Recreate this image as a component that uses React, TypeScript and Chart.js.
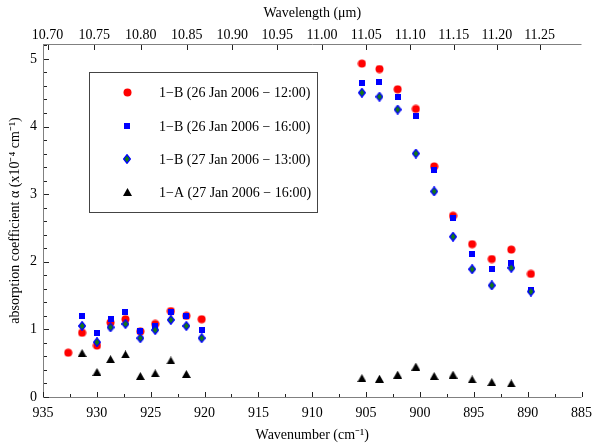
import React, { useEffect, useRef } from 'react';
import { Chart, registerables } from 'chart.js';
Chart.register(...registerables);

// Wavenumbers (cm^-1) of the two measured groups
const wnLeft = [932.66, 931.37, 929.99, 928.73, 927.34, 925.96, 924.58, 923.13, 921.69, 920.27];
const wnRight = [905.39, 903.76, 902.07, 900.38, 898.68, 896.93, 895.15, 893.33, 891.52, 889.7];

// absorption coefficient (x10^-4 cm^-1)
const b26Jan1200Left = [0.655, 0.95, 0.76, 1.1, 1.15, 0.97, 1.08, 1.27, 1.2, 1.15];
const b26Jan1200Right = [4.93, 4.85, 4.55, 4.26, 3.41, 2.68, 2.26, 2.04, 2.18, 1.82];
const b26Jan1600Left = [null, 1.2, 0.94, 1.16, 1.25, 0.97, 1.05, 1.26, 1.2, 0.99];
const b26Jan1600Right = [4.64, 4.66, 4.44, 4.16, 3.36, 2.65, 2.11, 1.9, 1.98, 1.58];
const b27Jan1300Left = [null, 1.05, 0.81, 1.03, 1.08, 0.87, 0.99, 1.14, 1.05, 0.87];
const b27Jan1300Right = [4.5, 4.44, 4.25, 3.6, 3.04, 2.37, 1.89, 1.65, 1.91, 1.56];
const a27Jan1600Left = [null, 0.65, 0.37, 0.56, 0.63, 0.31, 0.35, 0.54, 0.34, null];
const a27Jan1600Right = [0.28, 0.27, 0.33, 0.45, 0.31, 0.33, 0.26, 0.22, 0.2, null];

const seriesLabels = [
  '1\u2212B (26 Jan 2006 \u2212 12:00)',
  '1\u2212B (26 Jan 2006 \u2212 16:00)',
  '1\u2212B (27 Jan 2006 \u2212 13:00)',
  '1\u2212A (27 Jan 2006 \u2212 16:00)',
];

const wavelengthTicks = [10.7, 10.75, 10.8, 10.85, 10.9, 10.95, 11.0, 11.05, 11.1, 11.15, 11.2, 11.25];

const FONT = '"Liberation Serif", "Times New Roman", serif';

function zip(xs: number[], ys: (number | null)[]) {
  const out: { x: number; y: number }[] = [];
  xs.forEach((x, i) => {
    const y = ys[i];
    if (y !== null && y !== undefined) out.push({ x, y });
  });
  return out;
}

function makeMarker(kind: string): HTMLCanvasElement {
  const c = document.createElement('canvas');
  const ctx = c.getContext('2d')!;
  if (kind === 'circle') {
    c.width = 9; c.height = 9;
    ctx.fillStyle = '#ff0000';
    ctx.beginPath(); ctx.arc(4.5, 4.5, 4, 0, Math.PI * 2); ctx.fill();
  } else if (kind === 'square') {
    c.width = 6; c.height = 6;
    ctx.fillStyle = '#0000ff';
    ctx.fillRect(0, 0, 6, 6);
  } else if (kind === 'diamond') {
    c.width = 8; c.height = 10;
    ctx.fillStyle = '#137a13';
    ctx.strokeStyle = '#0000ff';
    ctx.lineWidth = 1.3;
    ctx.beginPath();
    ctx.moveTo(4, 0.7); ctx.lineTo(7.3, 5); ctx.lineTo(4, 9.3); ctx.lineTo(0.7, 5); ctx.closePath();
    ctx.fill(); ctx.stroke();
  } else {
    c.width = 9; c.height = 8;
    ctx.fillStyle = '#000000';
    ctx.beginPath(); ctx.moveTo(4.5, 0); ctx.lineTo(9, 8); ctx.lineTo(0, 8); ctx.closePath(); ctx.fill();
  }
  return c;
}

const isMult = (v: number, s: number) => Math.abs(v / s - Math.round(v / s)) < 1e-6;

export default function App() {
  const ref = useRef<HTMLCanvasElement>(null);
  useEffect(() => {
    const markers = ['circle', 'square', 'diamond', 'triangle'].map(makeMarker);

    const axesPlugin = {
      id: 'axesPlugin',
      afterDraw(chart: any) {
        const ctx = chart.ctx;
        const { left, right, top, bottom } = chart.chartArea;
        ctx.save();
        ctx.lineWidth = 1;
        ctx.strokeStyle = '#808080';
        ctx.beginPath();
        ctx.moveTo(left + 0.5, top); ctx.lineTo(left + 0.5, bottom + 0.5);
        ctx.moveTo(left, bottom + 0.5); ctx.lineTo(right, bottom + 0.5);
        ctx.moveTo(left, top + 0.5); ctx.lineTo(right, top + 0.5);
        ctx.stroke();
        ctx.strokeStyle = '#222';
        ctx.beginPath();
        const xs = chart.scales.x;
        xs.ticks.forEach((t: any) => {
          const px = Math.round(xs.getPixelForValue(t.value)) + 0.5;
          const len = isMult(t.value, 5) ? 5 : 3;
          ctx.moveTo(px, bottom); ctx.lineTo(px, bottom - len);
        });
        const x2 = chart.scales.x2;
        x2.ticks.forEach((t: any) => {
          const px = Math.round(x2.getPixelForValue(t.value)) + 0.5;
          ctx.moveTo(px, top + 1); ctx.lineTo(px, top + 6);
        });
        const ys = chart.scales.y;
        ys.ticks.forEach((t: any) => {
          const py = Math.round(ys.getPixelForValue(t.value)) + 0.5;
          const len = isMult(t.value, 1) ? 5 : 3;
          ctx.moveTo(left + 1, py); ctx.lineTo(left + 1 + len, py);
        });
        ctx.stroke();

        // legend
        const bx = 89, by = 72, bw = 228, bh = 140;
        ctx.strokeStyle = '#444';
        ctx.strokeRect(bx + 0.5, by + 0.5, bw, bh);
        ctx.font = '14px ' + FONT;
        ctx.fillStyle = '#000';
        ctx.textBaseline = 'middle';
        ctx.textAlign = 'left';
        const rows = [92, 126, 159, 192];
        seriesLabels.forEach((lab, i) => {
          const m = markers[i];
          ctx.drawImage(m, Math.round(127 - m.width / 2), Math.round(rows[i] - m.height / 2));
          ctx.fillText(lab, 159, rows[i] + 1);
        });
        ctx.restore();
      },
    };

    const mk = (i: number, data: { x: number; y: number }[], order: number) => ({
      label: seriesLabels[i],
      data,
      pointStyle: markers[i],
      pointRadius: 4,
      pointHoverRadius: 4,
      showLine: false,
      order,
    });

    const chart = new Chart(ref.current!, {
      type: 'scatter',
      data: {
        datasets: [
          mk(0, zip(wnLeft, b26Jan1200Left).concat(zip(wnRight, b26Jan1200Right)), 4),
          mk(1, zip(wnLeft, b26Jan1600Left).concat(zip(wnRight, b26Jan1600Right)), 3),
          mk(2, zip(wnLeft, b27Jan1300Left).concat(zip(wnRight, b27Jan1300Right)), 2),
          mk(3, zip(wnLeft, a27Jan1600Left).concat(zip(wnRight, a27Jan1600Right)), 1),
        ],
      },
      options: {
        responsive: false,
        animation: false,
        devicePixelRatio: 1,
        layout: { padding: { left: 0, right: 14, top: 0, bottom: 0 } },
        plugins: { legend: { display: false }, tooltip: { enabled: false } },
        scales: {
          x: {
            type: 'linear',
            position: 'bottom',
            min: 885,
            max: 935,
            reverse: true,
            grid: { display: false, drawTicks: false },
            border: { display: false },
            ticks: {
              stepSize: 2.5,
              autoSkip: false,
              maxRotation: 0,
              padding: 8,
              color: '#000',
              font: { family: FONT, size: 14 },
              callback: (v: any) => (isMult(Number(v), 5) ? String(Math.round(Number(v))) : ''),
            },
            title: {
              display: true,
              text: 'Wavenumber (cm\u207B\u00B9)',
              color: '#000',
              font: { family: FONT, size: 14 },
              padding: { top: 0, bottom: 0 },
            },
            afterFit: (s: any) => { s.height = 47; },
          },
          x2: {
            type: 'linear',
            position: 'top',
            min: 885,
            max: 935,
            reverse: true,
            grid: { display: false, drawTicks: false },
            border: { display: false },
            afterBuildTicks: (s: any) => {
              s.ticks = wavelengthTicks.map((l) => ({ value: 10000 / l }));
            },
            ticks: {
              autoSkip: false,
              maxRotation: 0,
              padding: 0,
              color: '#000',
              font: { family: FONT, size: 14 },
              callback: (v: any) => (10000 / Number(v)).toFixed(2),
            },
            title: {
              display: true,
              text: 'Wavelength (\u03BCm)',
              color: '#000',
              font: { family: FONT, size: 14 },
              padding: { top: 5, bottom: 0 },
            },
            afterFit: (s: any) => { s.height = 44; },
          },
          y: {
            type: 'linear',
            min: 0,
            max: 5.22,
            grid: { display: false, drawTicks: false },
            border: { display: false },
            ticks: {
              stepSize: 0.2,
              includeBounds: false,
              autoSkip: false,
              padding: 6,
              color: '#000',
              font: { family: FONT, size: 14 },
              callback: (v: any) => (isMult(Number(v), 1) ? String(Math.round(Number(v))) : ''),
            },
            title: {
              display: true,
              text: 'absorption coefficient \u03B1 (x10\u207B\u2074 cm\u207B\u00B9)',
              color: '#000',
              font: { family: FONT, size: 14 },
              padding: { top: 7, bottom: 0 },
            },
            afterFit: (s: any) => { s.width = 43; },
          },
        },
      },
      plugins: [axesPlugin],
    } as any);
    return () => chart.destroy();
  }, []);

  return (
    <div style={{ position: 'absolute', left: 0, top: 0, width: 600, height: 444, background: '#fff' }}>
      <canvas ref={ref} width={600} height={444} />
    </div>
  );
}
